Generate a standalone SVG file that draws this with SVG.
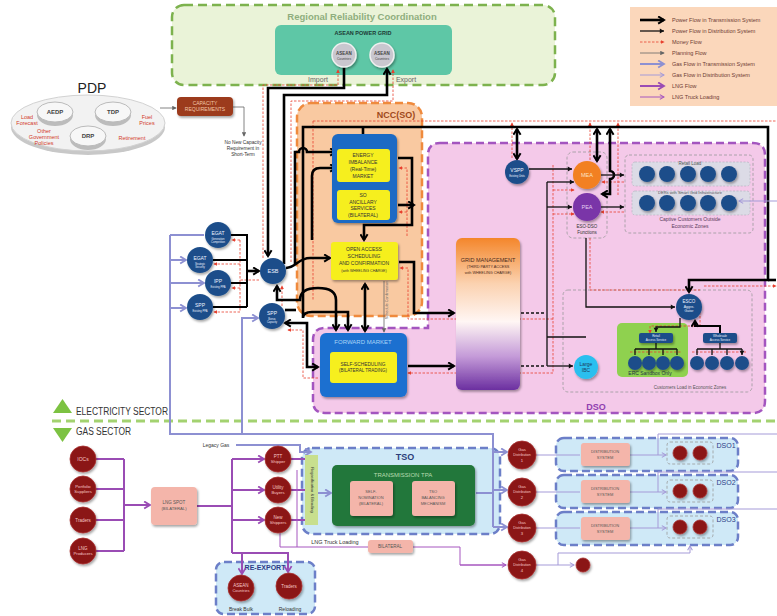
<svg xmlns="http://www.w3.org/2000/svg" width="777" height="616" viewBox="0 0 777 616">
<defs>
<style>
text{font-family:"Liberation Sans","DejaVu Sans",sans-serif;text-anchor:middle}
.st{text-anchor:start}
.tk{fill:none;stroke:#000;stroke-width:2.6}
.t2{fill:none;stroke:#000;stroke-width:2}
.td{fill:none;stroke:#111;stroke-width:1.3}
.dd{fill:none;stroke:#111;stroke-width:1.3;stroke-dasharray:3 2}
.mf{fill:none;stroke:#e8402e;stroke-width:0.8;stroke-dasharray:2.5 1.5}
.pf{fill:none;stroke:#666;stroke-width:0.8}
.gt{fill:none;stroke:#8d90d2;stroke-width:2}
.gd{fill:none;stroke:#a59bd8;stroke-width:1}
.lg{fill:none;stroke:#9a4cb4;stroke-width:2}
.lt{fill:none;stroke:#a657bf;stroke-width:1}
.bn{fill:#1d4e8a;filter:url(#sh)}
.rn{fill:#8b1515;stroke:#a83030;stroke-width:0.8;filter:url(#sh)}
.pk{fill:#f4b5aa;filter:url(#sh)}
.yb{fill:#f6ef1e}
.gb{fill:#cfe9f7;stroke:#6c7fc8;stroke-width:2.5;stroke-dasharray:8 4}
.wt{fill:#eef2ff}
.rt{fill:#f6c8c8}
.dk{fill:#333}
.lgd{text-anchor:start;font-size:5.5px;fill:#6e3b33}
.gray{fill:none;stroke:#9a9a9a;stroke-width:0.8;stroke-dasharray:3 2}
</style>
<filter id="sh" x="-50%" y="-50%" width="200%" height="200%"><feDropShadow dx="1.2" dy="1.8" stdDeviation="1.3" flood-color="#000" flood-opacity="0.35"/></filter>
<linearGradient id="gm" x1="0" y1="0" x2="0" y2="1">
<stop offset="0" stop-color="#f4862a"/><stop offset="0.3" stop-color="#fbd2b0"/><stop offset="0.55" stop-color="#fff6f4"/><stop offset="0.78" stop-color="#c49ad8"/><stop offset="1" stop-color="#6b2fa0"/>
</linearGradient>
<marker id="mk" viewBox="0 0 10 10" refX="8" refY="5" markerWidth="9" markerHeight="9" markerUnits="userSpaceOnUse" orient="auto-start-reverse"><path d="M1.5,1 L8,5 L1.5,9" fill="none" stroke="#000" stroke-width="2.2"/></marker>
<marker id="md" viewBox="0 0 10 10" refX="8" refY="5" markerWidth="6" markerHeight="6" markerUnits="userSpaceOnUse" orient="auto-start-reverse"><path d="M1,1 L8,5 L1,9z" fill="#111"/></marker>
<marker id="mm" viewBox="0 0 6 6" refX="5" refY="3" markerWidth="4" markerHeight="4" markerUnits="userSpaceOnUse" orient="auto-start-reverse"><path d="M0,0 L6,3 L0,6z" fill="#e8402e"/></marker>
<marker id="mp" viewBox="0 0 6 6" refX="5" refY="3" markerWidth="4.5" markerHeight="4.5" markerUnits="userSpaceOnUse" orient="auto"><path d="M0,0 L6,3 L0,6z" fill="#666"/></marker>
<marker id="mg" viewBox="0 0 10 10" refX="8" refY="5" markerWidth="9" markerHeight="9" markerUnits="userSpaceOnUse" orient="auto"><path d="M1.5,1 L8,5 L1.5,9" fill="none" stroke="#8d90d2" stroke-width="2"/></marker>
<marker id="mgd" viewBox="0 0 10 10" refX="8" refY="5" markerWidth="6" markerHeight="6" markerUnits="userSpaceOnUse" orient="auto"><path d="M1,1 L8,5 L1,9" fill="none" stroke="#a59bd8" stroke-width="1.8"/></marker>
<marker id="ml" viewBox="0 0 10 10" refX="8" refY="5" markerWidth="9" markerHeight="9" markerUnits="userSpaceOnUse" orient="auto"><path d="M1.5,1 L8,5 L1.5,9" fill="none" stroke="#9a4cb4" stroke-width="2"/></marker>
<marker id="mlt" viewBox="0 0 10 10" refX="8" refY="5" markerWidth="6" markerHeight="6" markerUnits="userSpaceOnUse" orient="auto"><path d="M1,1 L8,5 L1,9" fill="none" stroke="#a657bf" stroke-width="1.8"/></marker>
</defs>
<rect width="777" height="616" fill="#fff"/>

<!-- containers -->
<g id="regional">
<rect x="172" y="5" width="383" height="80" rx="12" fill="#eaf3d8" stroke="#7db24e" stroke-width="2.5" stroke-dasharray="9 5"/>
<text x="362" y="20" font-size="9.5" font-weight="bold" fill="#8fae7e">Regional Reliability Coordination</text>
<rect x="275" y="25" width="177" height="50" rx="6" fill="#5ec7a6"/>
<text x="363" y="35" font-size="5.5" font-weight="bold" fill="#1d3a35">ASEAN POWER GRID</text>
<text x="318" y="82" font-size="7" fill="#666">Import</text>
<text x="406" y="82" font-size="7" fill="#666">Export</text>
</g>
<g id="ncc">
<rect x="297" y="103" width="125" height="213" rx="14" fill="#f9c9a1" stroke="#ef8a3d" stroke-width="2.5" stroke-dasharray="8 4"/>
<text x="396" y="118" font-size="9" font-weight="bold" fill="#a04a1a">NCC(SO)</text>
</g>
<g id="dso">
<path d="M440,143 H753 Q765,143 765,155 V401 Q765,413 753,413 H325 Q313,413 313,401 V340 Q313,328 325,328 H428 V155 Q428,143 440,143 Z" fill="#f4c9e9" stroke="#a355bf" stroke-width="2.5" stroke-dasharray="8 4"/>
<text x="596" y="410" font-size="9" font-weight="bold" fill="#9040b0">DSO</text>
<rect x="567" y="152" width="40" height="86" rx="6" class="gray"/>
<text x="587" y="228" font-size="4.5" class="dk">ESO-DSO</text>
<text x="587" y="234" font-size="4.5" class="dk">Functions</text>
<rect x="625" y="155" width="128" height="78" rx="4" class="gray"/>
<rect x="632" y="162" width="118" height="24" rx="3" fill="#dcdbe6" stroke="#b5b5c0" stroke-width="0.7" stroke-dasharray="2 1.5"/>
<rect x="632" y="191" width="118" height="24" rx="3" fill="#dcdbe6" stroke="#b5b5c0" stroke-width="0.7" stroke-dasharray="2 1.5"/>
<text x="690" y="165" font-size="4.5" fill="#555">Retail Load</text>
<text x="690" y="194" font-size="4" fill="#555">DERs with Smart Grid Infrastructure</text>
<text x="690" y="221" font-size="5" fill="#5a3a5a">Captive Customers Outside</text>
<text x="690" y="228" font-size="5" fill="#5a3a5a">Economic Zones</text>
<rect x="563" y="290" width="189" height="102" rx="5" class="gray"/>
<text x="690" y="389" font-size="4.5" fill="#555">Customers Load in Economic Zones</text>
<rect x="617" y="323" width="71" height="54" rx="5" fill="#8fd14f"/>
<text x="650" y="375" font-size="5" fill="#234">ERC Sandbox Only</text>
</g>
<g id="legend">
<rect x="630" y="7" width="147" height="99" fill="#fbd7bb"/>
<path d="M640,20 H664" class="tk" marker-end="url(#mk)"/>
<path d="M640,31 H664" class="td" stroke-width="1.6" marker-end="url(#md)"/>
<path d="M640,42 H664" class="mf" marker-end="url(#mm)"/>
<path d="M640,53 H664" class="pf" marker-end="url(#mp)"/>
<path d="M640,64 H664" class="gt" stroke-width="3" marker-end="url(#mg)"/>
<path d="M640,75 H664" class="gd" stroke="#b9b4e6" stroke-width="2" marker-end="url(#mgd)"/>
<path d="M640,86 H664" class="lg" stroke-width="3" marker-end="url(#ml)"/>
<path d="M640,97 H664" class="lt" stroke-width="1.5" marker-end="url(#mlt)"/>
<text x="672" y="22" class="lgd">Power Flow in Transmission System</text>
<text x="672" y="33" class="lgd">Power Flow in Distribution System</text>
<text x="672" y="44" class="lgd">Money Flow</text>
<text x="672" y="55" class="lgd">Planning Flow</text>
<text x="672" y="66" class="lgd">Gas Flow in Transmission System</text>
<text x="672" y="77" class="lgd">Gas Flow in Distribution System</text>
<text x="672" y="88" class="lgd">LNG Flow</text>
<text x="672" y="99" class="lgd">LNG Truck Loading</text>
</g>
<g id="sectors">
<path d="M53,413 L72,413 L62.5,399 Z" fill="#7cc242"/>
<text x="76" y="415" font-size="10" class="st" fill="#333" textLength="92" lengthAdjust="spacingAndGlyphs">ELECTRICITY SECTOR</text>
<path d="M52,421 H777" stroke="#a3d270" stroke-width="3" stroke-dasharray="9 5"/>
<path d="M53,428 L72,428 L62.5,442 Z" fill="#7cc242"/>
<text x="76" y="435" font-size="10" class="st" fill="#333" textLength="55" lengthAdjust="spacingAndGlyphs">GAS SECTOR</text>
</g>
<g id="tso">
<rect x="302" y="448" width="198" height="86" rx="10" class="gb"/>
<text x="405" y="460" font-size="9" font-weight="bold" fill="#2c3e7a">TSO</text>
</g>
<g id="dso1"><rect x="556" y="438" width="182" height="33" rx="8" class="gb"/><rect x="667" y="442" width="46" height="22" rx="3" class="gray"/><text x="726" y="448" font-size="7" fill="#2c3c88">DSO1</text></g>
<g id="dso2"><rect x="556" y="475" width="182" height="33" rx="8" class="gb"/><rect x="667" y="480" width="46" height="22" rx="3" class="gray"/><text x="726" y="485" font-size="7" fill="#2c3c88">DSO2</text></g>
<g id="dso3"><rect x="556" y="512" width="182" height="33" rx="8" class="gb"/><rect x="667" y="516" width="46" height="22" rx="3" class="gray"/><text x="726" y="522" font-size="7" fill="#2c3c88">DSO3</text></g>
<g id="reexport">
<rect x="216" y="562" width="99" height="52" rx="8" class="gb"/>
<text x="265" y="570" font-size="7" font-weight="bold" fill="#2c3c88">RE-EXPORT</text>
<text x="241" y="611" font-size="5" class="dk">Break Bulk</text>
<text x="290" y="611" font-size="5" class="dk">Reloading</text>
</g>

<!-- connectors -->
<g id="connectors">
<path d="M313,121 H776" class="mf"/>
<path d="M313,121 V300" class="mf"/>
<path d="M512,158 V123" class="mf" marker-end="url(#mm)"/>
<path d="M590,160 V123" class="mf" marker-end="url(#mm)"/>
<path d="M618,195 V123" class="mf" marker-end="url(#mm)"/>
<path d="M263,258 V85 H338 V70" class="mf" marker-end="url(#mm)"/>
<path d="M291,262 V101 H393 V70" class="mf" marker-end="url(#mm)"/>
<path d="M259,280 H240 M240,240 V312" class="mf"/>
<path d="M240,240 H232" class="mf" marker-end="url(#mm)"/>
<path d="M240,264 H214" class="mf" marker-end="url(#mm)"/>
<path d="M240,288 H232" class="mf" marker-end="url(#mm)"/>
<path d="M240,312 H214" class="mf" marker-end="url(#mm)"/>
<path d="M282,306 V286" class="mf" marker-end="url(#mm)"/>
<path d="M318,378 H303 V330 H288" class="mf" marker-end="url(#mm)"/>
<path d="M407,236 V168 H399" class="mf" marker-end="url(#mm)"/>
<path d="M407,212 H399" class="mf" marker-end="url(#mm)"/>
<path d="M553,319 H408 V268 H400" class="mf" marker-end="url(#mm)"/>
<path d="M553,373 H408" class="mf" marker-end="url(#mm)"/>
<path d="M553,165 V373" class="mf"/>
<path d="M553,190 H574" class="mf" marker-end="url(#mm)"/>
<path d="M553,214 H574" class="mf" marker-end="url(#mm)"/>
<path d="M624,182 H602" class="mf" marker-end="url(#mm)"/>
<path d="M624,212 H601" class="mf" marker-end="url(#mm)"/>
<path d="M590,238 V290 H700" class="mf"/>
<path d="M704,286 H776" class="mf" marker-end="url(#mm)"/>
<path d="M700,300 V326 H650 V333" class="mf" marker-end="url(#mm)"/>
<path d="M630,352 H682 M692,352 H746" class="mf"/>
<path d="M160,108 H176" class="pf" marker-end="url(#mp)"/>
<path d="M233,107 H244 V136" class="pf" marker-end="url(#mp)"/>
<path d="M384,281 V332" class="pf" marker-end="url(#mp)"/>
<path d="M344,67 V88 H268 V256" class="tk" marker-end="url(#mk)"/>
<path d="M284,264 V95 H387 V69" class="tk" marker-end="url(#mk)"/>
<path d="M303,305 V127 H768 V280 H689 V292" class="tk" marker-end="url(#mk)"/>
<path d="M768,280 H776" class="tk"/>
<path d="M363,127 V147" class="tk" marker-end="url(#mk)"/>
<path d="M295,264 V152 H299 A4,4 0 0 1 307,152 H336" class="tk" marker-end="url(#mk)"/>
<path d="M312,240 V176 Q312,168 320,168 H336" class="tk" marker-end="url(#mk)"/>
<path d="M286,268 C296,268 298,258 310,258 H330" class="tk" marker-end="url(#mk)"/>
<path d="M277,286 V300 H300 Q300,288 318,288 Q336,288 336,300 V330" class="tk" marker-start="url(#mk)" marker-end="url(#mk)"/>
<path d="M303,305 V318 Q303,312 312,312 H348 V330" class="tk" marker-end="url(#mk)"/>
<path d="M285,310 H296" class="tk"/>
<path d="M285,323 H307 V367 H318" class="tk" marker-start="url(#mk)" marker-end="url(#mk)"/>
<path d="M365,284 V331" class="tk" marker-start="url(#mk)" marker-end="url(#mk)"/>
<path d="M398,158 H412 V225 H364 V240" class="tk" marker-end="url(#mk)"/>
<path d="M398,205 H414" class="tk" marker-end="url(#mk)"/>
<path d="M399,262 H414 V313 H454" class="tk" marker-end="url(#mk)"/>
<path d="M408,366 H454" class="tk" marker-end="url(#mk)"/>
<path d="M231,235 H247 V307 M213,260 H247 M231,283 H247 M213,307 H247" class="t2"/>
<path d="M247,271 H259" class="tk" marker-end="url(#mk)"/>
<path d="M517,129 V159" class="tk" marker-start="url(#mk)" marker-end="url(#mk)"/>
<path d="M597,129 V161" class="tk" marker-start="url(#mk)" marker-end="url(#mk)"/>
<path d="M610,129 V171 A4,4 0 0 1 610,179 V194 H602" class="tk" marker-start="url(#mk)" marker-end="url(#mk)"/>
<path d="M720,333 V326 H695 V321" class="t2" marker-end="url(#mk)"/>
<path d="M456,313 H546 M456,366 H546" class="dd"/>
<path d="M529,169 H572" class="td" marker-end="url(#md)"/>
<path d="M547,182 V366 M547,337 H586" class="td"/>
<path d="M547,182 H574" class="td" marker-end="url(#md)"/>
<path d="M547,207 H572" class="td" marker-end="url(#md)"/>
<path d="M547,366 H573" class="td" marker-end="url(#md)"/>
<path d="M586,238 V307 H675" class="td" marker-end="url(#md)"/>
<path d="M601,175 H624" class="td" marker-end="url(#md)"/>
<path d="M601,207 H624" class="td" marker-end="url(#md)"/>
<path d="M680,318 V327 H656 V332" class="td" marker-end="url(#md)"/>
<path d="M656,343 V349 M635,349 H677 M720,343 V349 M697,349 H742" class="td"/>
<path d="M635,349 V355 M649,349 V355 M663,349 V355 M677,349 V355 M697,349 V355 M712,349 V355 M727,349 V355 M742,349 V355" class="td" marker-end="url(#md)"/>
<path d="M493,527 V434 H170 V235" class="gt"/>
<path d="M170,235 H204 M170,260 H186" class="gt" marker-end="url(#mg)"/>
<path d="M170,283 H204" class="gt" marker-end="url(#mg)"/>
<path d="M170,308 H186" class="gt" marker-end="url(#mg)"/>
<path d="M242,434 V318 H258" class="gt" marker-end="url(#mg)"/>
<path d="M476,493 H493" class="gt"/>
<path d="M493,452 H507" class="gt" marker-end="url(#mg)"/>
<path d="M493,490 H507" class="gt" marker-end="url(#mg)"/>
<path d="M493,527 H507" class="gt" marker-end="url(#mg)"/>
<path d="M236,445 H300 V452 H311" class="gt" marker-end="url(#mg)"/>
<path d="M318,493 H331" class="gt" marker-end="url(#mg)"/>
<path d="M536,455 H580 M536,492 H580 M536,528 H580 M777,434 H658 V455 M777,472 H658 V492 M777,509 H658 V528" class="gd"/>
<path d="M630,455 H666" class="gd" marker-end="url(#mgd)"/>
<path d="M630,492 H666" class="gd" marker-end="url(#mgd)"/>
<path d="M630,528 H666" class="gd" marker-end="url(#mgd)"/>
<path d="M536,565 H574" class="gd" marker-end="url(#mgd)"/>
<path d="M558,565 V553 H690 V546" class="gd" marker-end="url(#mgd)"/>
<path d="M777,201 H739" class="gd" marker-end="url(#mgd)"/>
<path d="M96,459 H124 M96,489 H124 M96,520 H124 M96,551 H124 M124,459 V551 M197,506 H232 M232,459 V553" class="lg"/>
<path d="M124,505 H150" class="lg" marker-end="url(#ml)"/>
<path d="M232,459 H264" class="lg" marker-end="url(#ml)"/>
<path d="M232,490 H264" class="lg" marker-end="url(#ml)"/>
<path d="M232,520 H264" class="lg" marker-end="url(#ml)"/>
<path d="M232,553 H288 V572" class="lg" marker-end="url(#ml)"/>
<path d="M242,553 V574" class="lg" marker-end="url(#ml)"/>
<path d="M291,459 H305 M291,490 H318 M291,520 H305" class="lg"/>
<path d="M280,531 V547 H460 V565 H506 M297,470 V547" class="lt"/>
<path d="M460,565 H506" class="lt" marker-end="url(#mlt)"/>
</g>

<!-- nodes -->
<g id="asean1"><circle cx="344" cy="55" r="12" fill="#c9c7cf" stroke="#f0f0f0" stroke-width="1.5" filter="url(#sh)"/><text x="344" y="55" font-size="4.5" font-weight="bold" fill="#444">ASEAN</text><text x="344" y="60" font-size="3.3" fill="#444">Countries</text></g>
<g id="asean2"><circle cx="382" cy="55" r="12" fill="#c9c7cf" stroke="#f0f0f0" stroke-width="1.5" filter="url(#sh)"/><text x="382" y="55" font-size="4.5" font-weight="bold" fill="#444">ASEAN</text><text x="382" y="60" font-size="3.3" fill="#444">Countries</text></g>

<g id="pdp">
<text x="92" y="93" font-size="14" fill="#222">PDP</text>
<ellipse cx="88" cy="127" rx="77" ry="28" fill="#c8c8c8"/>
<ellipse cx="88" cy="123" rx="77" ry="28" fill="#f2f2f2" stroke="#d2d2d2"/>
<ellipse cx="55" cy="115" rx="18" ry="11" fill="#bcbcbc"/><ellipse cx="55" cy="112" rx="18" ry="10" fill="#f7f7f7" stroke="#bbb"/>
<text x="55" y="114" font-size="6" font-weight="bold" fill="#444">AEDP</text>
<ellipse cx="113" cy="115" rx="18" ry="11" fill="#bcbcbc"/><ellipse cx="113" cy="112" rx="18" ry="10" fill="#f7f7f7" stroke="#bbb"/>
<text x="113" y="114" font-size="6" font-weight="bold" fill="#444">TDP</text>
<ellipse cx="88" cy="139" rx="18" ry="11" fill="#bcbcbc"/><ellipse cx="88" cy="136" rx="18" ry="10" fill="#f7f7f7" stroke="#bbb"/>
<text x="88" y="138" font-size="6" font-weight="bold" fill="#444">DRP</text>
<g font-size="5.5" fill="#d23a2a">
<text x="27" y="119">Load</text><text x="27" y="125">Forecast</text>
<text x="147" y="119">Fuel</text><text x="147" y="125">Prices</text>
<text x="44" y="133">Other</text><text x="44" y="139">Government</text><text x="44" y="145">Policies</text>
<text x="132" y="140">Retirement</text>
</g>
</g>
<g id="capacity">
<rect x="177" y="97" width="56" height="19" rx="4" fill="#9c3b1b" filter="url(#sh)"/>
<text x="205" y="105" font-size="5" fill="#f2c6a8">CAPACITY</text>
<text x="205" y="111" font-size="5" fill="#f2c6a8">REQUIREMENTS</text>
<g font-size="4.8" fill="#333"><text x="243" y="144">No New Capacity</text><text x="243" y="150">Requirement in</text><text x="243" y="156">Short-Term</text></g>
</g>

<g id="so-markets">
<rect x="332" y="134" width="65" height="89" rx="6" fill="#1a6ac4" filter="url(#sh)"/>
</g>
<g id="energy-imbalance"><rect x="337" y="149" width="53" height="33" rx="3" class="yb"/>
<g font-size="5" class="dk"><text x="363" y="157">ENERGY</text><text x="363" y="164">IMBALANCE</text><text x="363" y="171">(Real-Time)</text><text x="363" y="178">MARKET</text></g></g>
<g id="ancillary"><rect x="337" y="190" width="53" height="30" rx="3" class="yb"/>
<g font-size="5" class="dk"><text x="363" y="197">SO</text><text x="363" y="204">ANCILLARY</text><text x="363" y="210">SERVICES</text><text x="363" y="217">(BILATERAL)</text></g></g>
<g id="open-access"><rect x="331" y="242" width="67" height="38" rx="3" class="yb" filter="url(#sh)"/>
<g class="dk"><text x="364" y="251" font-size="5">OPEN ACCESS</text><text x="364" y="258" font-size="5">SCHEDULING</text><text x="364" y="265" font-size="5">AND CONFIRMATION</text><text x="364" y="272" font-size="3.6">(with WHEELING CHARGE)</text></g></g>
<text x="388" y="300" font-size="3.8" fill="#666" transform="rotate(-90 388 300)">Schedule Confirmation</text>

<g id="forward-market"><rect x="320" y="333" width="87" height="64" rx="6" fill="#1e6fd0" filter="url(#sh)"/>
<text x="363" y="344" font-size="6" fill="#a9d4f7">FORWARD MARKET</text>
<rect x="330" y="352" width="67" height="31" rx="3" class="yb"/>
<text x="363" y="366" font-size="4.8" class="dk">SELF-SCHEDULING</text><text x="363" y="372" font-size="4.5" class="dk">(BILATERAL TRADING)</text></g>

<g id="grid-management"><rect x="456" y="238" width="64" height="152" rx="6" fill="url(#gm)" filter="url(#sh)"/>
<text x="488" y="262" font-size="5.5" fill="#4a2a1a">GRID MANAGEMENT</text><text x="488" y="268" font-size="3.8" fill="#4a2a1a">(THIRD PARTY ACCESS</text><text x="488" y="274" font-size="3.8" fill="#4a2a1a">with WHEELING CHARGE)</text></g>

<g id="egat1"><circle cx="218" cy="235" r="13" class="bn"/><text x="218" y="235" font-size="5" class="wt">EGAT</text><text x="218" y="240" font-size="2.6" class="wt">Generation</text><text x="218" y="243" font-size="2.6" class="wt">Competition</text></g>
<g id="egat2"><circle cx="200" cy="260" r="13" class="bn"/><text x="200" y="260" font-size="5" class="wt">EGAT</text><text x="200" y="265" font-size="2.6" class="wt">Strategic</text><text x="200" y="268" font-size="2.6" class="wt">Security</text></g>
<g id="ipp"><circle cx="218" cy="283" r="13" class="bn"/><text x="218" y="283" font-size="5" class="wt">IPP</text><text x="218" y="288" font-size="2.6" class="wt">Existing PPA</text></g>
<g id="spp1"><circle cx="200" cy="307" r="13" class="bn"/><text x="200" y="307" font-size="5" class="wt">SPP</text><text x="200" y="312" font-size="2.6" class="wt">Existing PPA</text></g>
<g id="esb"><circle cx="273" cy="271" r="13" class="bn"/><text x="273" y="273" font-size="5.5" class="wt">ESB</text></g>
<g id="spp2"><circle cx="272" cy="316" r="13" class="bn"/><text x="272" y="315" font-size="5" class="wt">SPP</text><text x="272" y="320" font-size="2.6" class="wt">Bonus</text><text x="272" y="323" font-size="2.6" class="wt">Capacity</text></g>
<g id="vspp"><circle cx="517" cy="172" r="12" class="bn"/><text x="517" y="172" font-size="5" class="wt">VSPP</text><text x="517" y="177" font-size="2.6" class="wt">Existing Units</text></g>
<g id="mea"><circle cx="587" cy="175" r="14" fill="#f28022" filter="url(#sh)"/><text x="587" y="177" font-size="5.5" fill="#fbe3c4">MEA</text></g>
<g id="pea"><circle cx="587" cy="207" r="14" fill="#7a35a8" filter="url(#sh)"/><text x="587" y="209" font-size="5.5" fill="#e3cdf2">PEA</text></g>
<g id="retail-load">
<circle cx="647" cy="174" r="8" class="bn"/><circle cx="667" cy="174" r="8" class="bn"/><circle cx="688" cy="174" r="8" class="bn"/><circle cx="708" cy="174" r="8" class="bn"/><circle cx="729" cy="174" r="8" class="bn"/>
</g>
<g id="ders">
<circle cx="647" cy="203" r="8" class="bn"/><circle cx="667" cy="203" r="8" class="bn"/><circle cx="688" cy="203" r="8" class="bn"/><circle cx="708" cy="203" r="8" class="bn"/><circle cx="729" cy="203" r="8" class="bn"/>
</g>
<g id="esco"><circle cx="689" cy="307" r="13" class="bn"/><text x="689" y="303" font-size="4.5" class="wt">ESCO</text><text x="689" y="308" font-size="3.5" class="wt">Aggre-</text><text x="689" y="312" font-size="3.5" class="wt">Gator</text></g>
<g id="retail-access"><rect x="639" y="333" width="34" height="10" rx="2" fill="#1d4e8a" filter="url(#sh)"/><text x="656" y="337" font-size="3" class="wt">Retail</text><text x="656" y="341" font-size="3" class="wt">Access Service</text>
<circle cx="635" cy="363" r="7" class="bn"/><circle cx="649" cy="363" r="7" class="bn"/><circle cx="663" cy="363" r="7" class="bn"/><circle cx="677" cy="363" r="7" class="bn"/></g>
<g id="wholesale-access"><rect x="703" y="333" width="34" height="10" rx="2" fill="#1d4e8a" filter="url(#sh)"/><text x="720" y="337" font-size="3" class="wt">Wholesale</text><text x="720" y="341" font-size="3" class="wt">Access Service</text>
<circle cx="697" cy="363" r="7" class="bn"/><circle cx="712" cy="363" r="7" class="bn"/><circle cx="727" cy="363" r="7" class="bn"/><circle cx="742" cy="363" r="7" class="bn"/></g>
<g id="large-ibc"><circle cx="586" cy="367" r="12" fill="#2bbfef" filter="url(#sh)"/><text x="586" y="366" font-size="5" fill="#1d3a60">Large</text><text x="586" y="372" font-size="5" fill="#1d3a60">IBC</text></g>

<g id="iocs"><circle cx="83" cy="459" r="13" class="rn"/><text x="83" y="461" font-size="5" class="rt">IOCs</text></g>
<g id="portfolio"><circle cx="83" cy="489" r="13" class="rn"/><text x="83" y="488" font-size="4.2" class="rt">Portfolio</text><text x="83" y="493" font-size="4.2" class="rt">Suppliers</text></g>
<g id="traders"><circle cx="83" cy="520" r="13" class="rn"/><text x="83" y="522" font-size="4.5" class="rt">Traders</text></g>
<g id="lng-producers"><circle cx="83" cy="551" r="13" class="rn"/><text x="83" y="550" font-size="4.5" class="rt">LNG</text><text x="83" y="555" font-size="4.2" class="rt">Producers</text></g>
<g id="lng-spot"><rect x="151" y="487" width="46" height="38" rx="4" class="pk"/><text x="174" y="504" font-size="4.5" fill="#555">LNG SPOT</text><text x="174" y="510" font-size="4.2" fill="#555">(BILATERAL)</text></g>
<text x="216" y="447" font-size="5" class="dk">Legacy Gas</text>
<g id="ptt"><circle cx="278" cy="459" r="13" class="rn"/><text x="278" y="458" font-size="4.5" class="rt">PTT</text><text x="278" y="463" font-size="4.2" class="rt">Shipper</text></g>
<g id="utility"><circle cx="278" cy="490" r="13" class="rn"/><text x="278" y="489" font-size="4.5" class="rt">Utility</text><text x="278" y="494" font-size="4.2" class="rt">Buyers</text></g>
<g id="new-shippers"><circle cx="278" cy="520" r="13" class="rn"/><text x="278" y="519" font-size="4.5" class="rt">New</text><text x="278" y="524" font-size="4.2" class="rt">Shippers</text></g>
<g id="asean-gas"><circle cx="241" cy="588" r="13" class="rn"/><text x="241" y="587" font-size="4.5" class="rt">ASEAN</text><text x="241" y="592" font-size="4" class="rt">Countries</text></g>
<g id="traders-re"><circle cx="289" cy="586" r="13" class="rn"/><text x="289" y="588" font-size="4.5" class="rt">Traders</text></g>
<g id="regas"><rect x="305" y="455" width="13" height="70" fill="#c8df8e"/><text x="311" y="490" font-size="4" class="dk" transform="rotate(90 311 490)">Regasification &amp; Blending</text></g>
<g id="transmission-tpa"><rect x="332" y="465" width="143" height="61" rx="5" fill="#23773a" filter="url(#sh)"/><text x="403" y="477" font-size="6" fill="#b8dcb0">TRANSMISSION TPA</text></g>
<g id="self-nomination"><rect x="350" y="481" width="43" height="35" rx="3" class="pk"/><text x="371" y="493" font-size="4" fill="#555">SELF-</text><text x="371" y="499" font-size="4" fill="#555">NOMINATION</text><text x="371" y="505" font-size="4" fill="#555">(BILATERAL)</text></g>
<g id="tso-balancing"><rect x="412" y="481" width="43" height="35" rx="3" class="pk"/><text x="433" y="493" font-size="4" fill="#555">TSO</text><text x="433" y="499" font-size="4" fill="#555">BALANCING</text><text x="433" y="505" font-size="4" fill="#555">MECHANISM</text></g>
<g id="gd1"><circle cx="522" cy="455" r="14" class="rn"/><text x="522" y="451" font-size="4.2" class="rt">Gas</text><text x="522" y="456" font-size="3.5" class="rt">Distribution</text><text x="522" y="462" font-size="4.2" class="rt">1</text></g>
<g id="gd2"><circle cx="522" cy="492" r="14" class="rn"/><text x="522" y="488" font-size="4.2" class="rt">Gas</text><text x="522" y="493" font-size="3.5" class="rt">Distribution</text><text x="522" y="499" font-size="4.2" class="rt">2</text></g>
<g id="gd3"><circle cx="522" cy="528" r="14" class="rn"/><text x="522" y="524" font-size="4.2" class="rt">Gas</text><text x="522" y="529" font-size="3.5" class="rt">Distribution</text><text x="522" y="535" font-size="4.2" class="rt">3</text></g>
<g id="gd4"><circle cx="522" cy="565" r="14" class="rn"/><text x="522" y="561" font-size="4.2" class="rt">Gas</text><text x="522" y="566" font-size="3.5" class="rt">Distribution</text><text x="522" y="572" font-size="4.2" class="rt">4</text></g>
<g id="gd4-customer"><circle cx="583" cy="565" r="7" class="rn"/></g>
<g id="bilateral"><rect x="368" y="540" width="45" height="13" rx="3" class="pk"/><text x="390" y="548" font-size="4.5" fill="#555">BILATERAL</text></g>
<text x="335" y="544" font-size="5.5" class="dk">LNG Truck Loading</text>
<g id="dist1"><rect x="581" y="443" width="49" height="23" rx="3" class="pk"/><text x="605" y="453" font-size="4" fill="#555">DISTRIBUTION</text><text x="605" y="459" font-size="4" fill="#555">SYSTEM</text><circle cx="680" cy="453" r="7" class="rn"/><circle cx="700" cy="453" r="7" class="rn"/></g>
<g id="dist2"><rect x="581" y="480" width="49" height="23" rx="3" class="pk"/><text x="605" y="490" font-size="4" fill="#555">DISTRIBUTION</text><text x="605" y="496" font-size="4" fill="#555">SYSTEM</text><circle cx="680" cy="491" r="7" class="rn"/><circle cx="700" cy="491" r="7" class="rn"/></g>
<g id="dist3"><rect x="581" y="517" width="49" height="23" rx="3" class="pk"/><text x="605" y="527" font-size="4" fill="#555">DISTRIBUTION</text><text x="605" y="533" font-size="4" fill="#555">SYSTEM</text><circle cx="680" cy="527" r="7" class="rn"/><circle cx="700" cy="527" r="7" class="rn"/></g>
</svg>
